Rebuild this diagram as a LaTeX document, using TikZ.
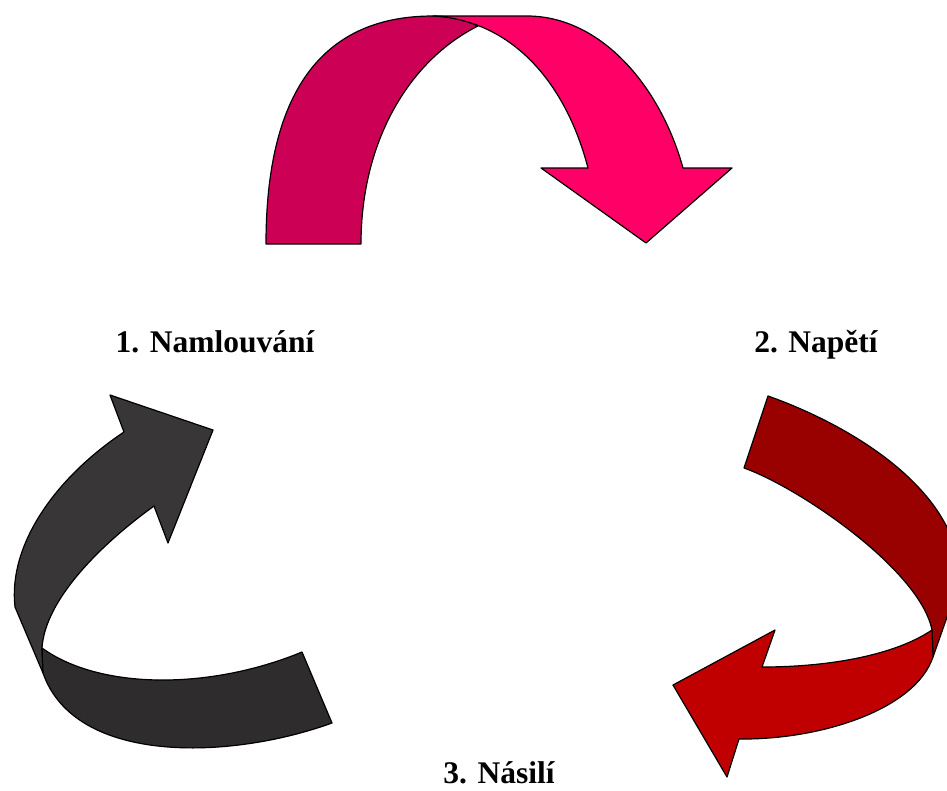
\documentclass[tikz,border=0pt]{standalone}
\usepackage{fontspec}
\setmainfont{Liberation Serif}
\definecolor{topdark}{HTML}{CC0055}
\definecolor{topbright}{HTML}{FF0066}
\definecolor{rightdark}{HTML}{990000}
\definecolor{rightbright}{HTML}{C00000}
\definecolor{leftup}{HTML}{393637}
\definecolor{leftlow}{HTML}{2E2C2D}
\tikzset{
  band/.style={draw=black, line width=1.2pt, line join=round},
  lbl/.style={anchor=base, inner sep=0pt, font=\fontsize{31.5}{38}\selectfont\bfseries}
}
\begin{document}
\begin{tikzpicture}[x=1pt,y=-1pt]
\useasboundingbox (0,0) rectangle (947,790);
\clip (0,0) rectangle (947,790);
% top arrow
\path[band, fill=topdark] (266,244) .. controls (266,95) and (320,16) .. (433,16)
  .. controls (450,16) and (465,20) .. (478,26)
  .. controls (410,60) and (361,140) .. (361,244) -- cycle;
\path[band, fill=topbright] (433,16) -- (527,16) .. controls (600,16) and (660,85) .. (683,168)
  -- (732,168) -- (646,243) -- (541,168) -- (588,168)
  .. controls (565,80) and (510,20) .. (433,16) -- cycle;
% right arrow
\path[band, fill=rightdark] (768,396) .. controls (850,425) and (960,490) .. (960,580)
  -- (933,657) -- (932,630)
  .. controls (920,570) and (800,488) .. (744,468) -- cycle;
\path[band, fill=rightbright] (932,630) .. controls (895,655) and (830,667) .. (762,667)
  -- (775,630) -- (673,685) -- (727,777) -- (739,739)
  .. controls (820,740) and (915,710) .. (933,657) -- cycle;
% left arrow
\path[band, fill=leftup] (110,395) -- (213,430) -- (168,543) -- (154,506)
  .. controls (100,545) and (45,600) .. (42,648) -- (43,673) -- (15,607)
  .. controls (8,545) and (55,478) .. (124,432) -- cycle;
\path[band, fill=leftlow] (42,648) .. controls (100,690) and (210,690) .. (302,652)
  -- (332,723) .. controls (230,760) and (75,765) .. (43,673) -- cycle;
% labels
\node[lbl] (l1) at (215,352) {1. Namlouvání};
\node[lbl] (l2) at (816,352) {2. Napětí};
\node[lbl] (l3) at (499,783) {3. Násilí};
\end{tikzpicture}
\end{document}
